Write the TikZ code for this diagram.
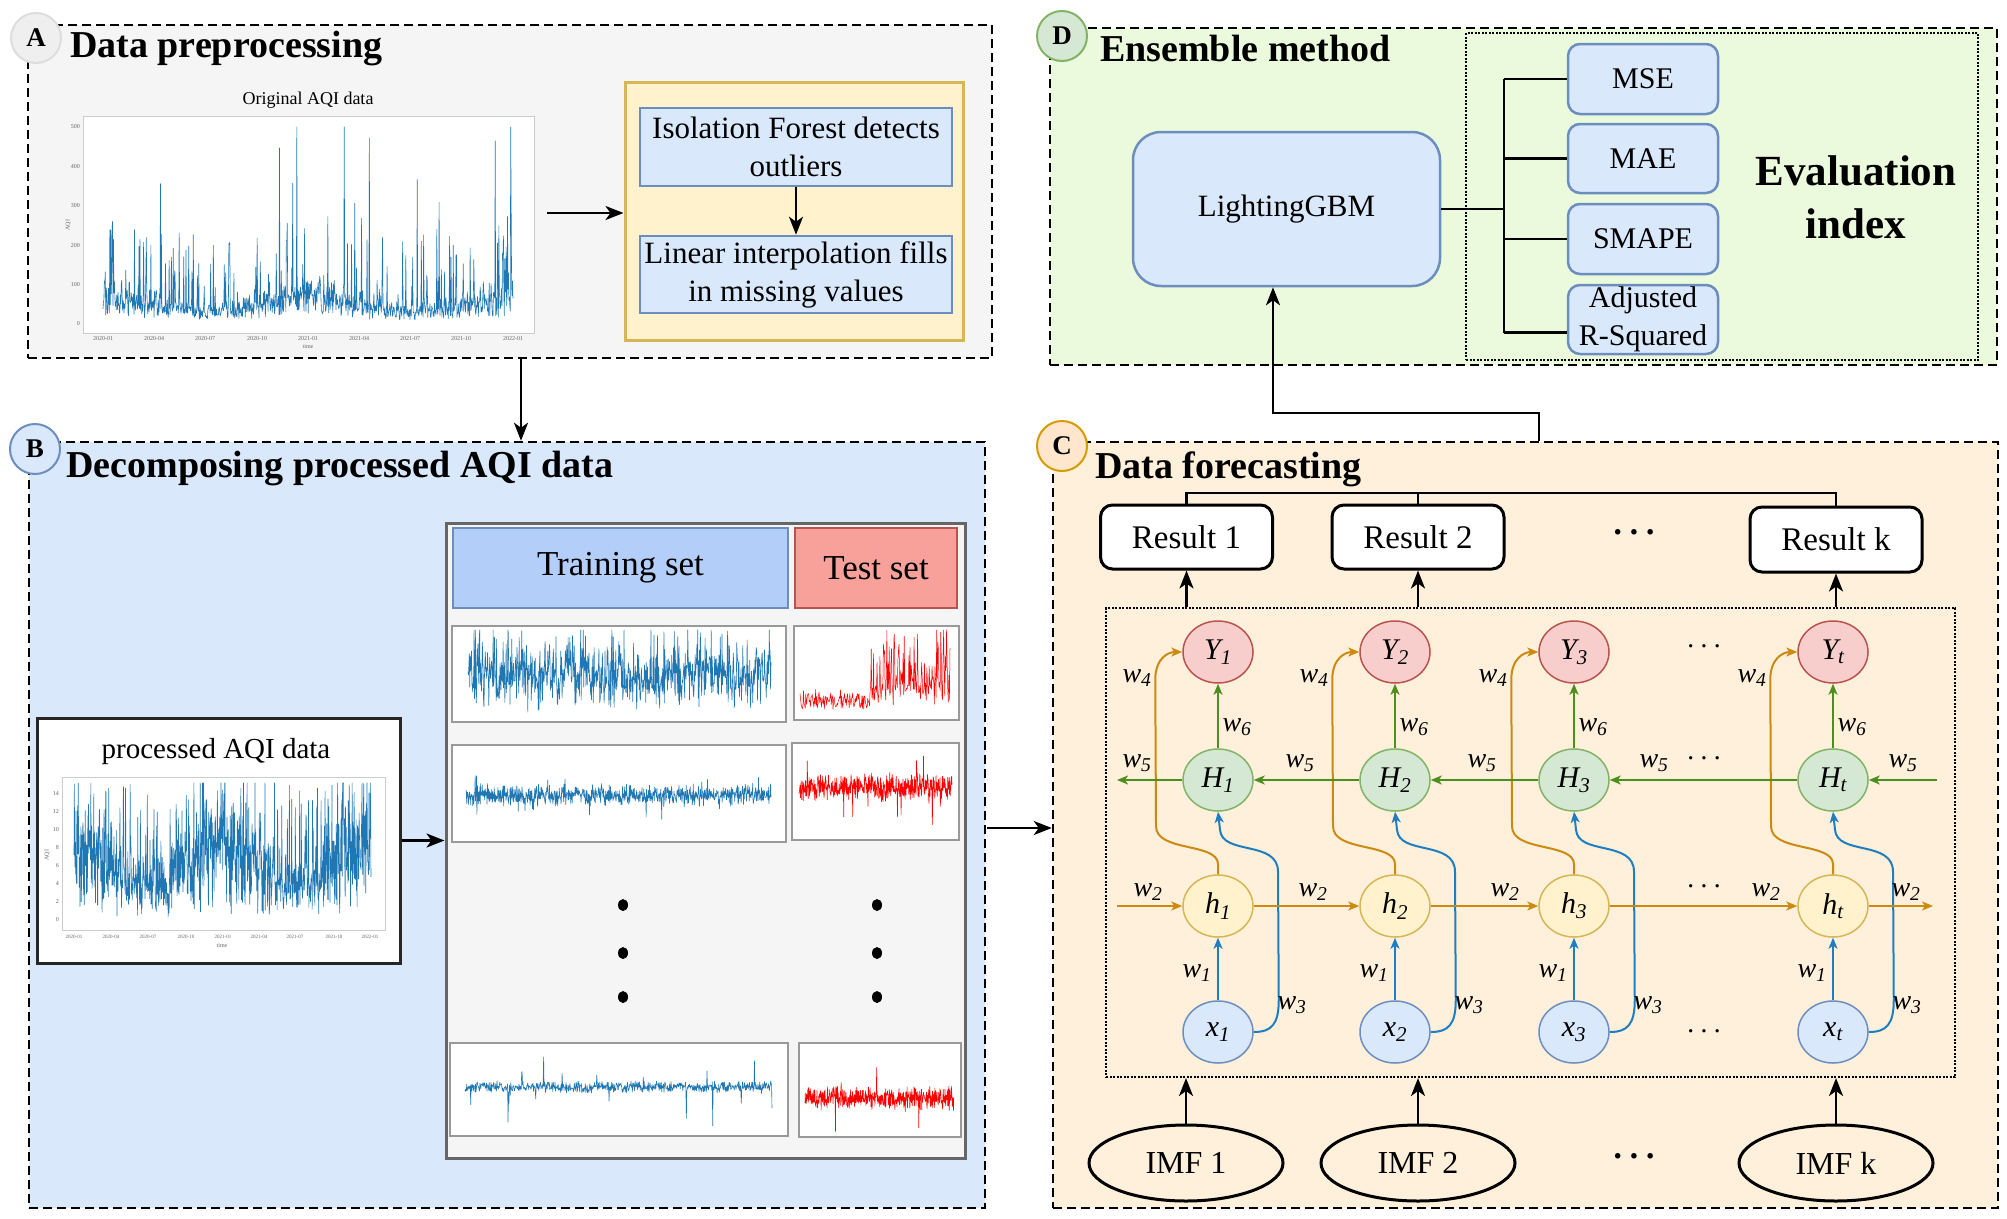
\documentclass[tikz,border=0pt]{standalone}
\usepackage{fontspec}
\setmainfont{Liberation Serif}
\usetikzlibrary{arrows.meta,shapes.geometric,calc}

\definecolor{panelA}{HTML}{F5F5F5}
\definecolor{circA}{HTML}{EFEFEF}
\definecolor{circAd}{HTML}{DDDDDD}
\definecolor{yelF}{HTML}{FFF2CC}
\definecolor{yelD}{HTML}{D6B656}
\definecolor{bluF}{HTML}{DAE8FC}
\definecolor{bluD}{HTML}{6C8EBF}
\definecolor{trainF}{HTML}{B3CEF8}
\definecolor{testF}{HTML}{F8A19B}
\definecolor{redD}{HTML}{B85450}
\definecolor{redF}{HTML}{F8CECC}
\definecolor{grnF}{HTML}{D5E8D4}
\definecolor{grnD}{HTML}{82B366}
\definecolor{panelD}{HTML}{EBFADC}
\definecolor{panelC}{HTML}{FFF0DB}
\definecolor{circCF}{HTML}{FFE6CC}
\definecolor{circCD}{HTML}{D79B00}
\definecolor{aqi}{HTML}{1F77B4}
\definecolor{sigred}{HTML}{FF0000}
\definecolor{arG}{HTML}{4D8F1E}
\definecolor{arO}{HTML}{CC8A10}
\definecolor{arB}{HTML}{1F7EC2}
\definecolor{contD}{HTML}{666666}
\definecolor{rowD}{HTML}{999999}
\definecolor{frameG}{HTML}{CCCCCC}

\begin{document}
\begin{tikzpicture}[x=1pt,y=-1pt,
  panel/.style={rectangle, draw=black, line width=2.5pt, dash pattern=on 9pt off 5pt, inner sep=0pt},
  badge/.style={circle, minimum size=50pt, inner sep=0pt, line width=2pt, font=\fontsize{27}{30}\selectfont\bfseries},
  ttl/.style={anchor=base west, inner sep=0pt, font=\fontsize{38}{44}\selectfont\bfseries},
  bbox/.style={rectangle, draw=bluD, fill=bluF, line width=2.5pt, inner sep=0pt, align=center, font=\fontsize{31}{38}\selectfont},
  bigarrow/.style={-{Stealth[length=18pt,width=14pt,inset=5pt]}, line width=2.5pt},
  conn/.style={line width=2.5pt},
  metric/.style={rectangle, rounded corners=12pt, draw=bluD, fill=bluF, line width=2.5pt, minimum width=150pt, inner sep=0pt, align=center, font=\fontsize{30}{38}\selectfont},
  resbox/.style={rectangle, rounded corners=12pt, draw=black, fill=white, line width=3pt, minimum width=172pt, inner sep=0pt, font=\fontsize{33}{38}\selectfont},
  imf/.style={ellipse, draw=black, line width=3pt, minimum width=194pt, minimum height=76pt, inner sep=0pt, font=\fontsize{32}{36}\selectfont},
  cell/.style={ellipse, minimum width=70pt, minimum height=62pt, inner sep=0pt, line width=1.5pt, font=\fontsize{30}{34}\selectfont\itshape},
  ga/.style={draw=arG, line width=2pt, -{Stealth[length=11pt,width=9pt,inset=3pt]}},
  oa/.style={draw=arO, line width=2pt, -{Stealth[length=11pt,width=9pt,inset=3pt]}},
  ba/.style={draw=arB, line width=2pt, -{Stealth[length=11pt,width=9pt,inset=3pt]}},
  wl/.style={inner sep=0pt, font=\fontsize{28}{30}\selectfont\itshape},
  dots/.style={inner sep=0pt, font=\fontsize{28}{30}\selectfont},
  bdots/.style={inner sep=0pt, font=\fontsize{34}{36}\selectfont\bfseries},
  rowbox/.style={rectangle, draw=rowD, fill=white, line width=2pt, inner sep=0pt},
  tick/.style={inner sep=0pt, font=\fontsize{6}{7}\selectfont, text=black!60},
  plotframe/.style={rectangle, draw=frameG, fill=white, line width=1pt, inner sep=0pt},
  sig/.style={line width=0.6pt, line join=round}
]
\pgfmathsetseed{4242}
\useasboundingbox[fill=white] (0,0) rectangle (2007,1218);

% ================= panels =================
\node[panel, fill=panelA, minimum width=964pt, minimum height=333pt] (pA) at (510,191.5) {};
\node[panel, fill=bluF, minimum width=956pt, minimum height=766pt] (pB) at (507,825) {};
\node[panel, fill=panelC, minimum width=945pt, minimum height=766pt] (pC) at (1525.5,825) {};
\node[panel, fill=panelD, minimum width=947pt, minimum height=337pt] (pD) at (1523.5,196.5) {};

% badges and titles
\node[badge, fill=circA, draw=circAd] (bA) at (36,38) {A};
\node[badge, fill=bluF, draw=bluD] (bB) at (35,449) {B};
\node[badge, fill=circCF, draw=circCD] (bC) at (1062,446) {C};
\node[badge, fill=grnF, draw=grnD] (bD) at (1062,36) {D};
\node[ttl] (tA) at (70,57) {Data preprocessing};
\node[ttl] (tB) at (66,477) {Decomposing processed AQI data};
\node[ttl] (tC) at (1095,478) {Data forecasting};
\node[ttl] (tD) at (1100,61) {Ensemble method};

% ================= panel A =================
\node[inner sep=0pt, font=\fontsize{18}{20}\selectfont] (chartAt) at (308,100) {Original AQI data};
\node[plotframe, minimum width=451pt, minimum height=217pt] (chartA) at (308.5,224.5) {};
\begin{scope}
\clip (chartA.south west) rectangle (chartA.north east);
\draw[aqi, sig] plot[domain=103:513, samples=900]
  (\x, {324-0.394*min(500,(12+55*rnd*rnd+45*rnd)*(1+0.35*cos(1.756*(\x-103)))+(rnd>0.9)*(40+160*rnd)+(rnd>0.985)*(250+300*rnd))});
\end{scope}
\foreach \v in {0,100,200,300,400,500} \node[tick, anchor=east] at (80,{324-0.394*\v}) {\v};
\foreach \xx/\lab in {103/2020-01,154/2020-04,205/2020-07,257/2020-10,308/2021-01,359/2021-04,410/2021-07,461/2021-10,513/2022-01}
  \node[tick] at (\xx,339) {\lab};
\node[tick] (timeA) at (308,347) {time};
\node[tick, rotate=90] (aqiA) at (68,225) {AQI};

\node[rectangle, draw=yelD, fill=yelF, line width=3pt, minimum width=338pt, minimum height=258pt, inner sep=0pt] (ybox) at (794,211) {};
\node[bbox, minimum width=312pt, minimum height=78pt] (iso) at (796,147) {Isolation Forest detects\\outliers};
\node[bbox, minimum width=312pt, minimum height=77pt] (lin) at (796,274.5) {Linear interpolation fills\\in missing values};
\draw[bigarrow] (iso.south) -- (lin.north);
\coordinate (arA) at (547,213);
\draw[bigarrow] (arA) -- (arA -| ybox.west);

% A -> B
\draw[bigarrow] ([xshift=11pt]pA.south) -- ([xshift=11pt]pA.south |- pB.north);

% ================= panel B =================
\node[rectangle, draw=black!85, fill=white, line width=3pt, minimum width=363pt, minimum height=245pt, inner sep=0pt] (proc) at (218.5,840.5) {};
\node[anchor=base, inner sep=0pt, font=\fontsize{29}{32}\selectfont] (proct) at (216,758) {processed AQI data};
\node[plotframe, minimum width=323pt, minimum height=153pt] (procplot) at (223.5,853.5) {};
\begin{scope}
\clip (procplot.south west) rectangle (procplot.north east);
\draw[aqi, sig] plot[domain=74:371, samples=900]
  (\x, {923-min(140,(5+55*rnd+45*rnd)*(1+0.35*cos(2.432*(\x-74)))+(rnd>0.75)*90*rnd)});
\end{scope}
\foreach \v/\yy in {0/920,2/902,4/884,6/866,8/848,10/830,12/812,14/794} \node[tick, anchor=east] at (59,\yy) {\v};
\foreach \xx/\lab in {74/2020-01,111/2020-04,148/2020-07,186/2020-10,223/2021-01,259/2021-04,295/2021-07,334/2021-10,370/2022-01}
  \node[tick, font=\fontsize{5}{6}\selectfont] at (\xx,937) {\lab};
\node[tick] (timeB) at (222,946) {time};
\node[tick, rotate=90] (aqiB) at (47,855) {AQI};

\node[rectangle, draw=contD, fill=panelA, line width=3pt, minimum width=519pt, minimum height=635pt, inner sep=0pt] (cont) at (705.5,840.5) {};
\draw[bigarrow] (proc.east) -- (cont.west);

\node[rectangle, draw=bluD, fill=trainF, line width=2.5pt, minimum width=335pt, minimum height=80pt, inner sep=0pt, font=\fontsize{35}{38}\selectfont] (trh) at (620.5,568) {Training set};
\node[rectangle, draw=redD, fill=testF, line width=2.5pt, minimum width=162pt, minimum height=80pt, inner sep=0pt, font=\fontsize{35}{38}\selectfont] (teh) at (876,568) {Test set};

\node[rowbox, minimum width=334pt, minimum height=96pt] (r1a) at (619,674) {};
\node[rowbox, minimum width=165pt, minimum height=94pt] (r1b) at (876.5,673) {};
\node[rowbox, minimum width=334pt, minimum height=97pt] (r2a) at (619,793.5) {};
\node[rowbox, minimum width=167pt, minimum height=97pt] (r2b) at (875.5,791.5) {};
\node[rowbox, minimum width=338pt, minimum height=93pt] (r3a) at (619,1089.5) {};
\node[rowbox, minimum width=162pt, minimum height=94pt] (r3b) at (880,1090) {};

\draw[aqi, sig] plot[domain=468:771, samples=700]
  (\x, {717-min(87,4+35*rnd+30*rnd+(rnd>0.7)*45*rnd)});
\draw[sigred, sig, line width=0.5pt] plot[domain=800:950, samples=260]
  (\x, {717-min(87,(6+12*rnd+10*rnd)*(1+0.6*(\x>870))+(\x>870)*(rnd>0.6)*60*rnd)});
\draw[aqi, sig] plot[domain=466:771, samples=900]
  (\x, {795+7*rand+5*rand+(rnd>0.95)*22*rand});
\draw[sigred, sig] plot[domain=799:952, samples=500]
  (\x, {787+9*rand+6*rand+(rnd>0.93)*30*rand});
\draw[aqi, sig] plot[domain=465:772, samples=700]
  (\x, {1087+4*rand+2.5*rand+(rnd>0.97)*35*rand});
\draw[sigred, sig] plot[domain=805:954, samples=500]
  (\x, {1098+8*rand+5*rand+(rnd>0.97)*40*rand});

\foreach \yy in {905,953,997} {
  \fill (623,\yy) ellipse [x radius=5pt, y radius=6pt];
  \fill (877,\yy) ellipse [x radius=5pt, y radius=6pt];
}

% B -> C
\coordinate (bc) at (987,828);
\draw[bigarrow] (bc) -- (bc -| pC.west);

% ================= panel D =================
\node[rectangle, draw=black, line width=2pt, dash pattern=on 2pt off 1.5pt, minimum width=512pt, minimum height=327pt, inner sep=0pt] (evb) at (1722,196.5) {};
\node[rectangle, rounded corners=28pt, draw=bluD, fill=bluF, line width=2.5pt, minimum width=307pt, minimum height=154pt, inner sep=0pt, font=\fontsize{31}{36}\selectfont] (gbm) at (1286.5,209) {LightingGBM};
\node[metric, minimum height=70pt] (mse) at (1643,79) {MSE};
\node[metric, minimum height=69pt] (mae) at (1643,158.5) {MAE};
\node[metric, minimum height=70pt] (smape) at (1643,239) {SMAPE};
\node[metric, minimum height=69pt] (adj) at (1643,319.5) {Adjusted\\R-Squared};
\node[inner sep=0pt, align=center, font=\fontsize{43}{53}\selectfont\bfseries] (evt) at (1856,197) {Evaluation\\index};
\coordinate (bus) at (1504,0);
\draw[conn] (gbm.east) -- (gbm.east -| bus);
\draw[conn] (mse.west -| bus) -- ([yshift=-13pt]adj.west -| bus);
\draw[conn] (mse.west -| bus) -- (mse.west);
\draw[conn] (mae.west -| bus) -- (mae.west);
\draw[conn] (smape.west -| bus) -- (smape.west);
\draw[conn] ([yshift=-13pt]adj.west -| bus) -- ([yshift=-13pt]adj.west);

% C -> D
\coordinate (cd) at (1539,413);
\draw[bigarrow] (cd |- pC.north) -- (cd) -| ([xshift=-13.5pt]gbm.south);

% ================= panel C =================
\node[resbox, minimum height=64pt] (res1) at (1186.5,537) {Result 1};
\node[resbox, minimum height=64pt] (res2) at (1418,537) {Result 2};
\node[resbox, minimum height=65pt] (resk) at (1836,539.5) {Result k};
\node[bdots] (rdots) at (1634,536) {·\hspace{5pt}·\hspace{5pt}·};
\coordinate (rb) at (0,493);
\draw[conn] (res1.north) -- (res1.north |- rb) -- (resk.north |- rb) -- (resk.north);
\draw[conn] (res2.north) -- (res2.north |- rb);

\node[rectangle, draw=black, line width=2pt, dash pattern=on 2pt off 1.5pt, minimum width=849pt, minimum height=469pt, inner sep=0pt] (dbox) at (1530.5,842.5) {};
\draw[bigarrow] (res1.south |- dbox.north) -- (res1.south);
\draw[bigarrow] (res2.south |- dbox.north) -- (res2.south);
\draw[bigarrow] (resk.south |- dbox.north) -- (resk.south);

\node[imf] (imf1) at (1186,1163) {IMF 1};
\node[imf] (imf2) at (1418,1163) {IMF 2};
\node[imf] (imfk) at (1836,1163) {IMF k};
\node[bdots] (idots) at (1634,1160) {·\hspace{5pt}·\hspace{5pt}·};
\draw[bigarrow] (imf1.north) -- (imf1.north |- dbox.south);
\draw[bigarrow] (imf2.north) -- (imf2.north |- dbox.south);
\draw[bigarrow] (imfk.north) -- (imfk.north |- dbox.south);

% RNN cells
\foreach \i/\X/\s in {1/1218/1,2/1395/2,3/1574/3,4/1833/t} {
  \node[cell, fill=redF, draw=redD] (Y\i) at (\X,652) {Y\textsubscript{\s}};
  \node[cell, fill=grnF, draw=grnD] (H\i) at (\X,780) {H\textsubscript{\s}};
  \node[cell, fill=yelF, draw=yelD] (h\i) at (\X,906) {h\textsubscript{\s}};
  \node[cell, fill=bluF, draw=bluD] (x\i) at (\X,1032) {x\textsubscript{\s}};
}
\foreach \i/\X in {1/1218,2/1395,3/1574,4/1833} {
  \draw[ga] (H\i) -- (Y\i);
  \draw[ba] (x\i) -- (h\i);
  \draw[oa] (h\i.north) -- ($(h\i.north)+(0,-10)$)
     .. controls ($(h\i.north)+(0,-32)$) and ($(h\i.north)+(-62,-22)$) .. ($(h\i.north)+(-62,-48)$)
     -- ($(Y\i.west)+(-27,28)$)
     .. controls ($(Y\i.west)+(-27,6)$) and ($(Y\i.west)+(-14,0)$) .. (Y\i.west);
  \draw[ba] (x\i.east) .. controls ($(x\i.east)+(18,0)$) and ($(x\i.east)+(25,-8)$) .. ($(x\i.east)+(25,-32)$)
     -- ($(H\i.south)+(60,60)$)
     .. controls ($(H\i.south)+(60,28)$) and ($(H\i.south)+(4,44)$) .. ($(H\i.south)+(2,18)$)
     -- (H\i.south);
  \node[wl] at (\X-81,678) {w\textsubscript{4}};
  \node[wl] at (\X+19,727) {w\textsubscript{6}};
  \node[wl] at (\X-21,973) {w\textsubscript{1}};
  \node[wl] at (\X+74,1005) {w\textsubscript{3}};
}
\coordinate (gL) at (1117,780);
\coordinate (gR) at (1937,780);
\coordinate (oL) at (1117,906);
\coordinate (oR) at (1933,906);
\draw[ga] (gR) -- (H4.east);
\draw[ga] (H4.west) -- (H3.east);
\draw[ga] (H3.west) -- (H2.east);
\draw[ga] (H2.west) -- (H1.east);
\draw[ga] (H1.west) -- (gL);
\draw[oa] (oL) -- (h1.west);
\draw[oa] (h1.east) -- (h2.west);
\draw[oa] (h2.east) -- (h3.west);
\draw[oa] (h3.east) -- (h4.west);
\draw[oa] (h4.east) -- (oR);

\foreach \xx in {1137,1300,1482,1654,1903} \node[wl] at (\xx,763) {w\textsubscript{5}};
\foreach \xx in {1148,1313,1505,1766,1906} \node[wl] at (\xx,892) {w\textsubscript{2}};
\node[dots] (d1) at (1704,650) {·\hspace{4pt}·\hspace{4pt}·};
\node[dots] (d2) at (1704,762) {·\hspace{4pt}·\hspace{4pt}·};
\node[dots] (d3) at (1704,890) {·\hspace{4pt}·\hspace{4pt}·};
\node[dots] (d4) at (1704,1035) {·\hspace{4pt}·\hspace{4pt}·};

\end{tikzpicture}
\end{document}
